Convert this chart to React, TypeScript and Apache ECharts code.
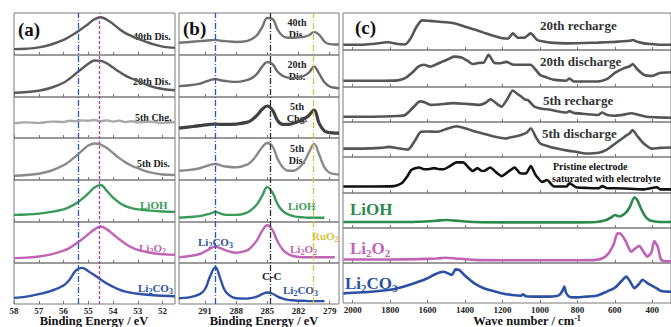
import React, { useEffect, useRef } from "react";
import * as echarts from "echarts";

const FONT = "'Liberation Serif', 'Times New Roman', serif";

// ---------- Panel (a): binding energy (eV) ----------
const aX = [58, 57.5, 57, 56.5, 56, 55.75, 55.5, 55.25, 55, 54.75, 54.5, 54.25, 54, 53.75, 53.5, 53.25, 53, 52.5, 52, 51.5];
const aTicks = [58, 57, 56, 55, 54, 53, 52];
const a40thDis = [0.14, 0.15, 0.18, 0.25, 0.36, 0.44, 0.53, 0.63, 0.74, 0.85, 0.9, 0.84, 0.74, 0.62, 0.52, 0.45, 0.39, 0.28, 0.2, 0.17];
const a20thDis = [0.1, 0.12, 0.15, 0.22, 0.34, 0.44, 0.56, 0.68, 0.79, 0.87, 0.86, 0.8, 0.7, 0.6, 0.51, 0.44, 0.38, 0.26, 0.19, 0.16];
const a5thChg = [0.36, 0.38, 0.37, 0.4, 0.39, 0.42, 0.41, 0.43, 0.42, 0.44, 0.41, 0.43, 0.4, 0.42, 0.39, 0.41, 0.38, 0.4, 0.37, 0.39];
const a5thDis = [0.1, 0.12, 0.15, 0.22, 0.35, 0.45, 0.57, 0.7, 0.82, 0.87, 0.84, 0.76, 0.64, 0.52, 0.42, 0.34, 0.28, 0.18, 0.13, 0.12];
const aLiOH = [0.17, 0.18, 0.2, 0.24, 0.3, 0.36, 0.44, 0.55, 0.68, 0.82, 0.88, 0.74, 0.58, 0.46, 0.38, 0.33, 0.3, 0.27, 0.25, 0.24];
const aLi2O2 = [0.12, 0.13, 0.16, 0.21, 0.3, 0.37, 0.47, 0.58, 0.7, 0.82, 0.89, 0.82, 0.7, 0.58, 0.47, 0.38, 0.32, 0.25, 0.21, 0.2];
const aLi2CO3 = [0.15, 0.18, 0.24, 0.32, 0.45, 0.6, 0.82, 0.88, 0.8, 0.7, 0.6, 0.5, 0.42, 0.35, 0.3, 0.27, 0.25, 0.22, 0.2, 0.19];
const aRefLines = [55.4, 54.55];

// ---------- Panel (b): binding energy (eV) ----------
const bX = [293.5, 292.5, 291.5, 291, 290.5, 290, 289.5, 289, 288, 287, 286.5, 286, 285.5, 285, 284.5, 284, 283.5, 283, 282.5, 282, 281.5, 281, 280.5, 280, 279.5, 279, 278.5, 278.1];
const bTicks = [291, 288, 285, 282, 279];
const b40thDis = [0.29, 0.31, 0.33, 0.34, 0.35, 0.36, 0.34, 0.33, 0.31, 0.33, 0.38, 0.47, 0.66, 0.88, 0.86, 0.6, 0.45, 0.41, 0.41, 0.42, 0.43, 0.47, 0.55, 0.48, 0.32, 0.26, 0.25, 0.25];
const b20thDis = [0.26, 0.28, 0.32, 0.36, 0.4, 0.43, 0.4, 0.38, 0.36, 0.4, 0.45, 0.55, 0.72, 0.83, 0.78, 0.6, 0.5, 0.46, 0.45, 0.46, 0.5, 0.58, 0.72, 0.55, 0.35, 0.25, 0.22, 0.21];
const b5thChg = [0.24, 0.27, 0.3, 0.32, 0.33, 0.34, 0.33, 0.33, 0.34, 0.38, 0.44, 0.55, 0.7, 0.78, 0.68, 0.42, 0.33, 0.33, 0.36, 0.4, 0.46, 0.55, 0.68, 0.35, 0.17, 0.13, 0.12, 0.12];
const b5thDis = [0.22, 0.24, 0.28, 0.32, 0.36, 0.38, 0.35, 0.32, 0.3, 0.36, 0.45, 0.6, 0.78, 0.88, 0.8, 0.5, 0.3, 0.22, 0.22, 0.28, 0.42, 0.65, 0.86, 0.6, 0.3, 0.17, 0.14, 0.13];
const bLiOH = [0.1, 0.12, 0.14, 0.17, 0.2, 0.24, 0.2, 0.17, 0.17, 0.22, 0.3, 0.42, 0.62, 0.83, 0.7, 0.42, 0.26, 0.18, 0.14, 0.12, 0.11, 0.1, 0.1, 0.1, 0.1, null, null, null];
const bLi2O2 = [0.14, 0.17, 0.22, 0.28, 0.35, 0.4, 0.36, 0.31, 0.25, 0.3, 0.4, 0.55, 0.78, 0.92, 0.8, 0.52, 0.32, 0.22, 0.17, 0.15, 0.14, 0.14, 0.14, 0.14, 0.14, 0.14, 0.14, null];
const bLi2CO3 = [0.14, 0.16, 0.24, 0.36, 0.68, 0.9, 0.6, 0.3, 0.14, 0.13, 0.15, 0.18, 0.24, 0.28, 0.25, 0.18, 0.13, 0.1, 0.09, 0.08, 0.08, 0.07, 0.07, 0.07, 0.07, null, null, null];
const bRefLines = [290.0, 284.7, 280.6];

// ---------- Panel (c): Raman, wave number (cm-1) ----------
const cTicks = [2000, 1800, 1600, 1400, 1200, 1000, 800, 600, 400];
const c20thRecharge = [[2050, 0.14], [1950, 0.14], [1900, 0.16], [1810, 0.21], [1760, 0.16], [1720, 0.15], [1690, 0.32], [1660, 0.62], [1630, 0.8], [1600, 0.79], [1550, 0.77], [1500, 0.75], [1460, 0.72], [1400, 0.63], [1340, 0.54], [1290, 0.45], [1240, 0.37], [1200, 0.32], [1170, 0.31], [1145, 0.45], [1120, 0.34], [1085, 0.33], [1050, 0.45], [1015, 0.27], [980, 0.23], [945, 0.2], [860, 0.18], [760, 0.19], [690, 0.2], [600, 0.22], [520, 0.25], [505, 0.27], [480, 0.22], [445, 0.18], [400, 0.16], [350, 0.14], [300, 0.14]];
const c20thDischarge = [[2050, 0.17], [1950, 0.17], [1850, 0.17], [1760, 0.18], [1720, 0.24], [1680, 0.4], [1650, 0.55], [1620, 0.6], [1585, 0.55], [1550, 0.62], [1515, 0.7], [1490, 0.75], [1460, 0.82], [1420, 0.8], [1390, 0.72], [1360, 0.62], [1330, 0.65], [1300, 0.66], [1275, 0.87], [1245, 0.66], [1210, 0.64], [1180, 0.68], [1140, 0.6], [1100, 0.6], [1050, 0.6], [1020, 0.45], [1000, 0.33], [960, 0.25], [930, 0.2], [860, 0.17], [842, 0.23], [820, 0.15], [760, 0.15], [690, 0.15], [640, 0.22], [600, 0.38], [550, 0.51], [520, 0.56], [505, 0.62], [480, 0.48], [445, 0.33], [400, 0.3], [360, 0.38], [300, 0.4]];
const c5thRecharge = [[2050, 0.15], [1900, 0.15], [1760, 0.17], [1720, 0.2], [1680, 0.4], [1640, 0.59], [1610, 0.55], [1585, 0.49], [1540, 0.5], [1463, 0.54], [1400, 0.52], [1325, 0.49], [1290, 0.55], [1265, 0.65], [1230, 0.52], [1205, 0.44], [1175, 0.65], [1145, 0.9], [1120, 0.8], [1100, 0.73], [1080, 0.64], [1066, 0.63], [1050, 0.55], [1030, 0.44], [990, 0.38], [945, 0.35], [900, 0.3], [860, 0.27], [842, 0.31], [820, 0.26], [760, 0.23], [690, 0.2], [668, 0.27], [640, 0.2], [600, 0.18], [550, 0.21], [513, 0.25], [470, 0.2], [427, 0.15], [360, 0.13], [300, 0.12]];
const c5thDischarge = [[2050, 0.24], [1950, 0.24], [1850, 0.26], [1808, 0.29], [1760, 0.25], [1705, 0.21], [1670, 0.45], [1636, 0.72], [1600, 0.73], [1549, 0.72], [1500, 0.8], [1446, 0.88], [1400, 0.82], [1342, 0.72], [1290, 0.65], [1240, 0.58], [1187, 0.53], [1140, 0.58], [1101, 0.63], [1070, 0.7], [1049, 0.82], [1020, 0.55], [997, 0.38], [940, 0.28], [859, 0.19], [800, 0.14], [755, 0.1], [686, 0.12], [640, 0.22], [599, 0.38], [548, 0.58], [520, 0.68], [505, 0.77], [480, 0.6], [444, 0.38], [400, 0.24], [358, 0.26], [300, 0.27]];
const cPristine = [[2050, 0.18], [1900, 0.18], [1780, 0.19], [1739, 0.27], [1710, 0.45], [1687, 0.64], [1644, 0.71], [1620, 0.66], [1601, 0.66], [1567, 0.69], [1530, 0.66], [1515, 0.66], [1480, 0.75], [1446, 0.85], [1411, 0.85], [1380, 0.7], [1359, 0.61], [1334, 0.69], [1315, 0.62], [1299, 0.61], [1265, 0.71], [1235, 0.58], [1204, 0.47], [1170, 0.59], [1135, 0.71], [1109, 0.56], [1075, 0.54], [1049, 0.75], [1023, 0.5], [988, 0.31], [962, 0.36], [928, 0.19], [880, 0.18], [859, 0.18], [842, 0.27], [807, 0.16], [740, 0.14], [686, 0.13], [668, 0.19], [640, 0.13], [599, 0.13], [520, 0.12], [444, 0.1], [375, 0.16], [358, 0.1], [300, 0.1]];
const cLiOH = [[2050, 0.17], [1800, 0.17], [1650, 0.18], [1550, 0.21], [1500, 0.23], [1450, 0.21], [1350, 0.17], [1200, 0.16], [1000, 0.16], [800, 0.16], [700, 0.17], [650, 0.22], [620, 0.3], [600, 0.37], [575, 0.33], [545, 0.42], [520, 0.6], [505, 0.8], [495, 0.88], [480, 0.8], [460, 0.55], [440, 0.35], [420, 0.24], [400, 0.2], [360, 0.17], [300, 0.17]];
const cLi2O2 = [[2050, 0.1], [1800, 0.1], [1650, 0.11], [1550, 0.13], [1500, 0.15], [1450, 0.13], [1350, 0.09], [1200, 0.08], [1000, 0.08], [800, 0.08], [700, 0.09], [660, 0.15], [630, 0.3], [605, 0.55], [586, 0.85], [565, 0.82], [540, 0.6], [513, 0.32], [490, 0.42], [470, 0.49], [450, 0.35], [427, 0.18], [405, 0.3], [389, 0.63], [370, 0.45], [353, 0.09], [330, 0.05], [300, 0.05]];
const cLi2CO3 = [[2050, 0.24], [1900, 0.28], [1800, 0.33], [1750, 0.38], [1700, 0.45], [1650, 0.53], [1600, 0.62], [1560, 0.72], [1515, 0.78], [1490, 0.74], [1470, 0.7], [1451, 0.84], [1430, 0.82], [1400, 0.68], [1350, 0.49], [1300, 0.37], [1250, 0.3], [1200, 0.24], [1150, 0.2], [1100, 0.18], [1090, 0.22], [1075, 0.17], [1000, 0.16], [950, 0.16], [900, 0.19], [880, 0.3], [870, 0.41], [860, 0.25], [840, 0.15], [800, 0.14], [750, 0.16], [700, 0.18], [650, 0.27], [600, 0.38], [560, 0.57], [539, 0.66], [520, 0.55], [496, 0.37], [470, 0.48], [453, 0.58], [420, 0.48], [380, 0.38], [352, 0.3], [300, 0.28]];

const GRAY_D = "#555555";
const GREEN = "#3a9a5a";
const MAGENTA = "#c064b4";
const BLUE = "#2f52a6";
const YELLOW = "#d8c43c";

function pairs(xs: number[], ys: (number | null)[]) {
  const out: number[][] = [];
  xs.forEach((x, i) => {
    if (ys[i] !== null && ys[i] !== undefined) out.push([x, ys[i] as number]);
  });
  return out;
}

function buildOption() {
  const grid: any[] = [];
  const xAxis: any[] = [];
  const yAxis: any[] = [];
  const series: any[] = [];

  const addRow = (
    left: number, top: number, width: number, height: number,
    xmin: number, xmax: number, ticks: number[], showLabels: boolean,
    data: number[][], color: string, lw: number, smooth: number
  ) => {
    const i = grid.length;
    grid.push({ left, top, width, height, show: true, borderColor: "#7a7a7a", borderWidth: 1 });
    xAxis.push({
      type: "value", gridIndex: i, min: xmin, max: xmax, inverse: true,
      axisLine: { show: false }, splitLine: { show: false },
      axisTick: { show: true, inside: true, length: 3, lineStyle: { color: "#777" }, customValues: ticks },
      axisLabel: {
        show: showLabels, customValues: ticks, fontFamily: FONT, fontWeight: "bold", fontSize: 9,
        color: "#222", margin: 2, formatter: (v: number) => String(v),
      },
    });
    yAxis.push({ type: "value", gridIndex: i, min: 0, max: 1, show: false });
    series.push({
      type: "line", xAxisIndex: i, yAxisIndex: i, data, showSymbol: false, smooth,
      lineStyle: { color, width: lw }, silent: true,
    });
  };

  const addOverlay = (left: number, top: number, width: number, height: number, xmin: number, xmax: number, lines: any[]) => {
    const i = grid.length;
    grid.push({ left, top, width, height, show: false });
    xAxis.push({ type: "value", gridIndex: i, min: xmin, max: xmax, inverse: true, show: false });
    yAxis.push({ type: "value", gridIndex: i, min: 0, max: 1, show: false });
    series.push({
      type: "line", xAxisIndex: i, yAxisIndex: i, data: [], silent: true,
      markLine: { symbol: "none", silent: true, label: { show: false }, data: lines },
    });
  };

  // Panel (a)
  const aTops = [13, 55, 97, 138, 180, 222, 263];
  const aH = [42, 42, 41, 42, 42, 41, 41];
  const aSeries = [a40thDis, a20thDis, a5thChg, a5thDis, aLiOH, aLi2O2, aLi2CO3];
  const aColors = ["#5a5a5a", "#5a5a5a", "#a8a8a8", "#8a8a8a", GREEN, MAGENTA, BLUE];
  aSeries.forEach((ys, k) =>
    addRow(14, aTops[k], 161, aH[k], 51.5, 58, aTicks, k === 6, pairs(aX, ys), aColors[k], 2.4, 0.4)
  );
  addOverlay(14, 13, 161, 291, 51.5, 58, [
    { xAxis: aRefLines[0], lineStyle: { color: "#3358b0", width: 1.3, type: [6, 2, 1, 2] } },
    { xAxis: aRefLines[1], lineStyle: { color: "#b040a8", width: 1.3, type: [3, 2] } },
  ]);

  // Panel (b)
  const bSeries = [b40thDis, b20thDis, b5thChg, b5thDis, bLiOH, bLi2O2, bLi2CO3];
  const bColors = ["#747474", "#6a6a6a", "#404040", "#8a8a8a", GREEN, MAGENTA, BLUE];
  const bWidths = [2.4, 2.4, 3.2, 2.4, 2.4, 2.4, 2.4];
  bSeries.forEach((ys, k) =>
    addRow(179, aTops[k], 160, aH[k], 278.1, 293.5, bTicks, k === 6, pairs(bX, ys), bColors[k], bWidths[k], 0.4)
  );
  addOverlay(179, 13, 160, 291, 278.1, 293.5, [
    { xAxis: bRefLines[0], lineStyle: { color: "#2c55b0", width: 1.3, type: [6, 2, 1, 2] } },
    { xAxis: bRefLines[1], lineStyle: { color: "#333333", width: 1.3, type: [6, 2, 1, 2] } },
    { xAxis: bRefLines[2], lineStyle: { color: YELLOW, width: 1.3, type: [6, 2, 1, 2] } },
  ]);

  // Panel (c)
  const cTops = [13, 50, 87, 122, 157, 193, 228, 263];
  const cH = [37, 37, 35, 35, 36, 35, 35, 40];
  const cSeries = [c20thRecharge, c20thDischarge, c5thRecharge, c5thDischarge, cPristine, cLiOH, cLi2O2, cLi2CO3];
  const cColors = [GRAY_D, GRAY_D, GRAY_D, GRAY_D, "#111111", "#2e8a4c", "#c062b6", "#2c50a4"];
  cSeries.forEach((d, k) =>
    addRow(343, cTops[k], 338, cH[k], 300, 2052, cTicks, k === 7, d, cColors[k], 2.6, 0.2)
  );

  const sub = (size: number, color: string) => ({
    n: { fontSize: size, fontWeight: "bold", fontFamily: FONT, fill: color, lineHeight: size + 4 },
    s: { fontSize: Math.max(8, Math.round(size * 0.62)), fontWeight: "bold", fontFamily: FONT, fill: color, lineHeight: Math.round(size * 0.5), verticalAlign: "bottom" },
  });

  const txt = (x: number, y: number, text: string, size: number, color: string, align = "left", extra: any = {}) => ({
    type: "text", x, y, silent: true,
    style: { text, fontSize: size, fontWeight: "bold", fontFamily: FONT, fill: color, textAlign: align, textVerticalAlign: "middle", ...extra },
  });
  const chem = (x: number, y: number, text: string, size: number, color: string, align = "left") => ({
    type: "text", x, y, silent: true,
    style: { text, rich: sub(size, color), fill: color, textAlign: align, textVerticalAlign: "middle" },
  });

  const graphic: any[] = [
    // panel labels
    txt(18, 29, "(a)", 19, "#111"),
    txt(183, 28, "(b)", 19, "#111"),
    txt(355, 27, "(c)", 19, "#111"),
    // (a) annotations
    txt(133, 36, "40th Dis.", 10, "#222"),
    txt(133, 81, "20th Dis.", 10, "#222"),
    txt(135, 117, "5th Chg.", 10, "#222"),
    txt(137, 163, "5th Dis.", 10, "#222"),
    txt(140, 205, "LiOH", 11, GREEN),
    chem(139, 248, "{n|Li}{s|2}{n|O}{s|2}", 11, MAGENTA),
    chem(138, 288, "{n|Li}{s|2}{n|CO}{s|3}", 11, BLUE),
    // (b) annotations
    txt(297, 28, "40th\nDis.", 10, "#222", "center", { lineHeight: 12 }),
    txt(297, 70, "20th\nDis.", 10, "#222", "center", { lineHeight: 12 }),
    txt(297, 112, "5th\nChg.", 10, "#222", "center", { lineHeight: 12 }),
    txt(297, 154, "5th\nDis.", 10, "#222", "center", { lineHeight: 12 }),
    txt(288, 206, "LiOH", 11, GREEN),
    chem(198, 242, "{n|Li}{s|2}{n|CO}{s|3}", 11, BLUE),
    chem(312, 236, "{n|RuO}{s|2}", 11, YELLOW),
    chem(290, 249, "{n|Li}{s|2}{n|O}{s|2}", 11, MAGENTA),
    txt(262, 276, "C-C", 11, "#222"),
    chem(283, 290, "{n|Li}{s|2}{n|CO}{s|3}", 11, BLUE),
    // (c) annotations
    txt(540, 25, "20th recharge", 13, "#333"),
    txt(540, 61, "20th discharge", 13, "#333"),
    txt(543, 100, "5th recharge", 13, "#333"),
    txt(542, 133, "5th discharge", 13, "#333"),
    txt(553, 166, "Pristine electrode", 10, "#111"),
    txt(552, 178, "saturated with electrolyte", 10, "#111"),
    txt(350, 209, "LiOH", 17, "#2e8a4c"),
    chem(350, 248, "{n|Li}{s|2}{n|O}{s|2}", 17, "#c062b6"),
    chem(345, 283, "{n|Li}{s|2}{n|CO}{s|3}", 17, "#2c50a4"),
    // axis titles
    txt(94, 321, "Binding Energy / eV", 12.5, "#111", "center"),
    txt(264, 321, "Binding Energy / eV", 12.5, "#111", "center"),
    {
      type: "text", x: 527, y: 321, silent: true,
      style: {
        text: "{n|Wave number / cm}{p|-1}", textAlign: "center", textVerticalAlign: "middle",
        rich: {
          n: { fontSize: 12.5, fontWeight: "bold", fontFamily: FONT, fill: "#111", lineHeight: 14 },
          p: { fontSize: 8, fontWeight: "bold", fontFamily: FONT, fill: "#111", lineHeight: 7, verticalAlign: "top" },
        },
      },
    },
  ];

  return {
    animation: false,
    backgroundColor: "#ffffff",
    grid, xAxis, yAxis, series, graphic,
  };
}

export default function App() {
  const ref = useRef<HTMLDivElement>(null);
  useEffect(() => {
    if (!ref.current) return;
    const chart = echarts.init(ref.current, null, { renderer: "svg" });
    chart.setOption(buildOption() as any);
    return () => chart.dispose();
  }, []);
  return <div ref={ref} style={{ position: "absolute", left: 0, top: 0, width: 671, height: 327, overflow: "hidden" }} />;
}
